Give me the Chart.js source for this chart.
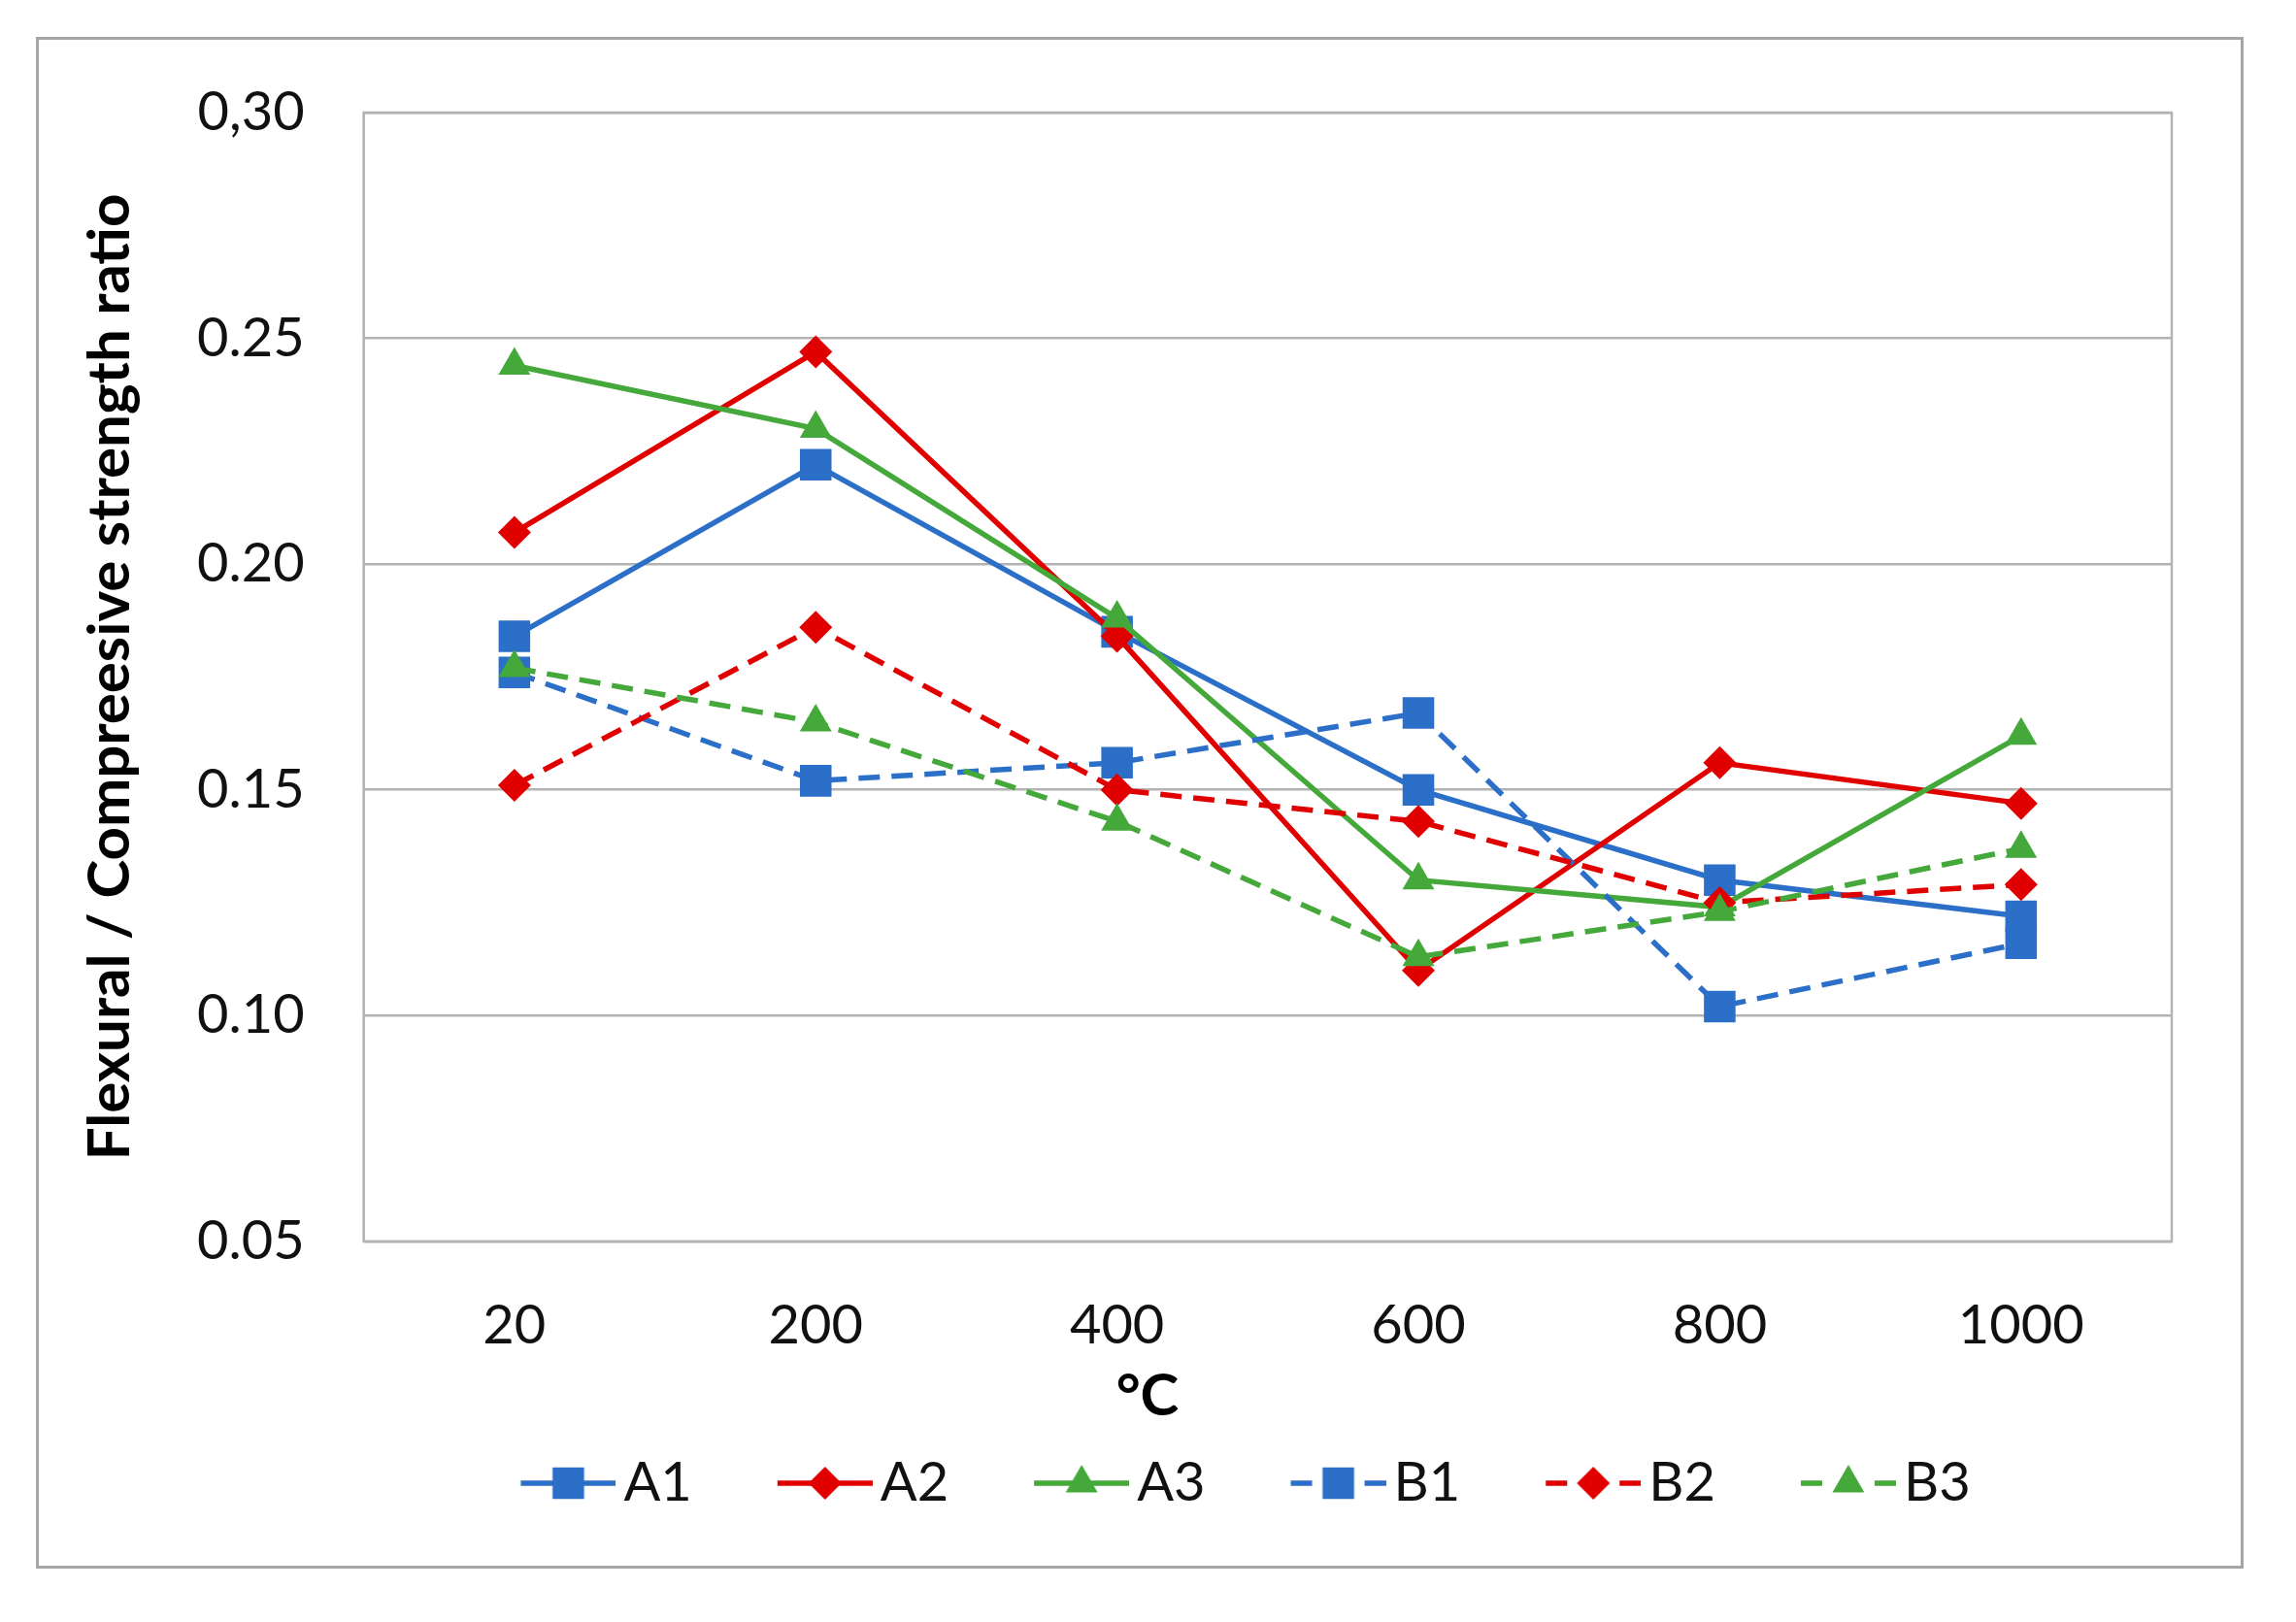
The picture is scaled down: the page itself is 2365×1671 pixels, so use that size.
<!DOCTYPE html>
<html>
<head>
<meta charset="utf-8">
<script src="https://cdn.jsdelivr.net/npm/chart.js@4/dist/chart.umd.min.js"></script>
<style>
  html, body { margin: 0; padding: 0; background: #ffffff; overflow: hidden; }
  #wrap { position: relative; width: 2365px; height: 1671px; }
  #frame { position: absolute; left: 37px; top: 38px; width: 2268px; height: 1572px; border: 3px solid #a6a6a6; }
  #cv { position: absolute; left: 0; top: 0; }
</style>
</head>
<body>
<div id="wrap">
  <div id="frame"></div>
  <canvas id="cv" width="2365" height="1671"></canvas>
</div>
<script>
// ---- data ----
const categories = ['20', '200', '400', '600', '800', '1000'];
const seriesNames = ['A1', 'A2', 'A3', 'B1', 'B2', 'B3'];
const A1 = [0.184, 0.222, 0.185, 0.150, 0.130, 0.122];
const A2 = [0.207, 0.247, 0.184, 0.110, 0.156, 0.147];
const A3 = [0.244, 0.230, 0.188, 0.130, 0.124, 0.162];
const B1 = [0.176, 0.152, 0.156, 0.167, 0.102, 0.116];
const B2 = [0.151, 0.186, 0.150, 0.143, 0.125, 0.129];
const B3 = [0.177, 0.165, 0.143, 0.113, 0.123, 0.137];
const yTickLabels = ['0.05', '0.10', '0.15', '0.20', '0.25', '0,30'];
const xTitle = '°C';
const yTitle = 'Flexural / Compreesive strength ratio';

// ---- styles ----
const BLUE = '#2b6fc8', RED = '#e00000', GREEN = '#45a83a';
const FONT = 'Lato';
const GRID = '#b3b3b3';
const TEXT = '#111';
const seriesValues = [A1, A2, A3, B1, B2, B3];
const colors = [BLUE, RED, GREEN, BLUE, RED, GREEN];
const dashed = [false, false, false, true, true, true];
const styles = ['rect', 'rectRot', 'triangle', 'rect', 'rectRot', 'triangle'];
const radii = { rect: 23, rectRot: 17, triangle: 19 };
const LEGEND_BOX = 146, LEGEND_GAP = 20;
const LEGEND_CENTER = 1249, TITLE_CENTER = 1182;
const X_TICK_PAD = 46, X_FIT_TRIM = 51, Y_TICK_PAD = 61;

function drawMarker(ctx, style, r, x, y) {
  ctx.beginPath();
  if (style === 'rect') {
    const s = r * Math.SQRT1_2;
    ctx.rect(x - s, y - s, 2 * s, 2 * s);
  } else if (style === 'rectRot') {
    ctx.moveTo(x, y - r); ctx.lineTo(x + r, y); ctx.lineTo(x, y + r); ctx.lineTo(x - r, y); ctx.closePath();
  } else {
    const a = -Math.PI / 2;
    for (let k = 0; k < 3; k++) {
      const t = a + k * 2 * Math.PI / 3;
      const px = x + Math.cos(t) * r, py = y + Math.sin(t) * r;
      if (k === 0) ctx.moveTo(px, py); else ctx.lineTo(px, py);
    }
    ctx.closePath();
  }
  ctx.fill();
}

function legendIcon(i) {
  const c = document.createElement('canvas');
  const W = LEGEND_BOX + 40, H = 50;
  c.width = W; c.height = H;
  const g = c.getContext('2d');
  const x0 = W - 98, cy = H / 2;
  g.strokeStyle = colors[i]; g.fillStyle = colors[i]; g.lineWidth = 5.5;
  g.setLineDash(dashed[i] ? [22, 54] : []);
  g.beginPath(); g.moveTo(x0, cy); g.lineTo(W, cy); g.stroke();
  g.setLineDash([]);
  drawMarker(g, styles[i], radii[styles[i]], x0 + 49, cy);
  return c;
}
const icons = seriesNames.map((_, i) => legendIcon(i));

const datasets = seriesNames.map((name, i) => ({
  label: name,
  data: seriesValues[i],
  borderColor: colors[i],
  backgroundColor: colors[i],
  borderWidth: 5.5,
  borderDash: dashed[i] ? [22, 12] : [],
  pointStyle: styles[i],
  pointRadius: radii[styles[i]],
  pointHoverRadius: radii[styles[i]],
  pointBorderWidth: 0,
  pointBackgroundColor: colors[i],
  tension: 0,
  order: seriesNames.length - i
}));

const framePlugin = {
  id: 'frame',
  beforeDatasetsDraw(chart) {
    const a = chart.chartArea, ctx = chart.ctx;
    ctx.save();
    ctx.strokeStyle = GRID; ctx.lineWidth = 2.5;
    ctx.strokeRect(a.left, a.top, a.right - a.left, a.bottom - a.top);
    ctx.restore();
  }
};
const centerPlugin = {
  id: 'centerBoxes',
  afterLayout(chart) {
    const shift = (box, c) => { if (!box) return; const w = box.right - box.left; box.left = c - w / 2; box.right = c + w / 2; };
    shift(chart.legend, LEGEND_CENTER);
    shift(chart.titleBlock, TITLE_CENTER);
  }
};

new Chart(document.getElementById('cv'), {
  type: 'line',
  data: { labels: categories, datasets },
  plugins: [framePlugin, centerPlugin],
  options: {
    responsive: false,
    devicePixelRatio: 1,
    animation: false,
    layout: { padding: { left: 60, right: 128, top: 116, bottom: 105 } },
    scales: {
      x: {
        offset: true,
        grid: { display: false, offset: true },
        border: { display: false },
        ticks: { color: TEXT, font: { family: FONT, size: 56 }, padding: X_TICK_PAD },
        afterFit: (s) => { s.height -= X_FIT_TRIM; }
      },
      y: {
        min: 0.05, max: 0.30,
        grid: { color: GRID, lineWidth: 2.5, drawTicks: false },
        border: { display: false },
        ticks: {
          stepSize: 0.05,
          color: TEXT,
          font: { family: FONT, size: 56 },
          padding: Y_TICK_PAD,
          callback: (v, idx) => yTickLabels[idx]
        },
        afterFit: (s) => { s.width -= Y_TICK_PAD; },
        title: {
          display: true, text: yTitle, color: '#000',
          font: { family: FONT, size: 60, weight: 'bold' },
          padding: { top: 18, bottom: 53 }
        }
      }
    },
    plugins: {
      tooltip: { enabled: false },
      title: {
        display: true, text: xTitle, position: 'bottom', weight: 500,
        color: '#000', font: { family: FONT, size: 60, weight: 'bold' },
        padding: { top: 8, bottom: 5 }
      },
      legend: {
        position: 'bottom',
        labels: {
          color: TEXT,
          font: { family: FONT, size: 56 },
          usePointStyle: true,
          pointStyleWidth: LEGEND_BOX,
          padding: LEGEND_GAP,
          generateLabels: (chart) => chart.data.datasets.map((ds, i) => ({
            text: ds.label, pointStyle: icons[i], fillStyle: colors[i], strokeStyle: colors[i],
            lineWidth: 0, hidden: false, datasetIndex: i, fontColor: TEXT
          }))
        }
      }
    }
  }
});
</script>
</body>
</html>
